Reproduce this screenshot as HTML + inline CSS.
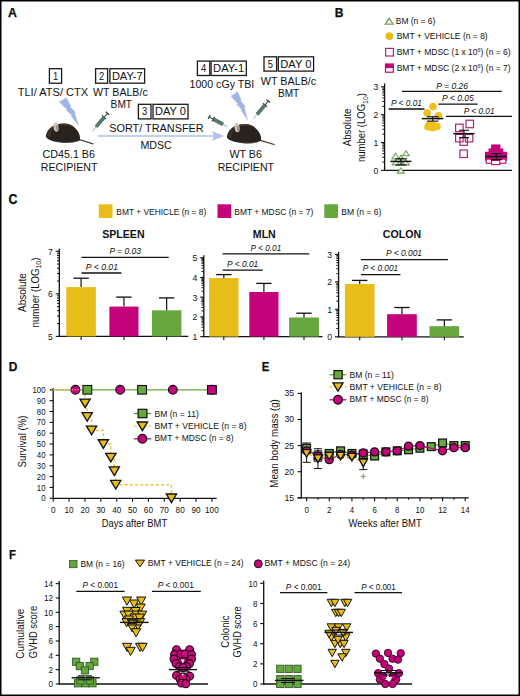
<!DOCTYPE html>
<html><head><meta charset="utf-8"><style>
html,body{margin:0;padding:0;background:#fff;overflow:hidden;width:520px;height:696px;}
svg{display:block;}
text{font-family:"Liberation Sans",sans-serif;fill:#111;}
</style></head><body>
<svg width="520" height="696" viewBox="0 0 520 696">
<defs><filter id="mblur" x="-20%" y="-20%" width="140%" height="140%"><feGaussianBlur stdDeviation="0.45"/></filter></defs>
<rect width="520" height="696" fill="#fff"/>
<rect x="0.75" y="0.75" width="518.5" height="694.5" fill="none" stroke="#000" stroke-width="1.5"/>
<text x="8.10" y="17.10" font-size="13.2" text-anchor="start" font-weight="bold" textLength="8.90" lengthAdjust="spacingAndGlyphs" stroke="#000" stroke-width="0.25">A</text>
<text x="334.70" y="17.30" font-size="13.2" text-anchor="start" font-weight="bold" textLength="8.70" lengthAdjust="spacingAndGlyphs" stroke="#000" stroke-width="0.25">B</text>
<text x="8.50" y="204.00" font-size="13.9" text-anchor="start" font-weight="bold" textLength="8.90" lengthAdjust="spacingAndGlyphs" stroke="#000" stroke-width="0.25">C</text>
<text x="8.65" y="370.80" font-size="13.2" text-anchor="start" font-weight="bold" textLength="8.65" lengthAdjust="spacingAndGlyphs" stroke="#000" stroke-width="0.25">D</text>
<text x="261.80" y="370.70" font-size="13.2" text-anchor="start" font-weight="bold" textLength="7.60" lengthAdjust="spacingAndGlyphs" stroke="#000" stroke-width="0.25">E</text>
<text x="9.00" y="558.90" font-size="13.2" text-anchor="start" font-weight="bold" textLength="6.90" lengthAdjust="spacingAndGlyphs" stroke="#000" stroke-width="0.25">F</text>
<rect x="49.40" y="68.70" width="12.20" height="14.50" fill="none" stroke="#1a1a1a" stroke-width="1.3"/>
<text x="55.50" y="79.60" font-size="10.8" text-anchor="middle" textLength="5.20" lengthAdjust="spacingAndGlyphs">1</text>
<rect x="95.60" y="68.70" width="12.00" height="14.50" fill="none" stroke="#1a1a1a" stroke-width="1.3"/>
<text x="101.60" y="79.60" font-size="10.8" text-anchor="middle" textLength="5.20" lengthAdjust="spacingAndGlyphs">2</text>
<rect x="109.90" y="68.70" width="34.70" height="14.50" fill="none" stroke="#1a1a1a" stroke-width="1.3"/>
<text x="127.25" y="79.60" font-size="10.8" text-anchor="middle" textLength="30.70" lengthAdjust="spacingAndGlyphs">DAY-7</text>
<rect x="138.40" y="104.30" width="12.60" height="14.60" fill="none" stroke="#1a1a1a" stroke-width="1.3"/>
<text x="144.70" y="115.30" font-size="10.8" text-anchor="middle" textLength="5.20" lengthAdjust="spacingAndGlyphs">3</text>
<rect x="153.00" y="104.30" width="35.00" height="14.60" fill="none" stroke="#1a1a1a" stroke-width="1.3"/>
<text x="170.50" y="115.30" font-size="10.8" text-anchor="middle" textLength="31.00" lengthAdjust="spacingAndGlyphs">DAY 0</text>
<rect x="197.40" y="61.10" width="12.40" height="14.40" fill="none" stroke="#1a1a1a" stroke-width="1.3"/>
<text x="203.60" y="71.90" font-size="10.8" text-anchor="middle" textLength="5.20" lengthAdjust="spacingAndGlyphs">4</text>
<rect x="211.10" y="61.10" width="35.20" height="14.40" fill="none" stroke="#1a1a1a" stroke-width="1.3"/>
<text x="228.70" y="71.90" font-size="10.8" text-anchor="middle" textLength="31.20" lengthAdjust="spacingAndGlyphs">DAY-1</text>
<rect x="264.00" y="56.80" width="12.60" height="14.30" fill="none" stroke="#1a1a1a" stroke-width="1.3"/>
<text x="270.30" y="67.50" font-size="10.8" text-anchor="middle" textLength="5.20" lengthAdjust="spacingAndGlyphs">5</text>
<rect x="278.30" y="56.80" width="35.30" height="14.30" fill="none" stroke="#1a1a1a" stroke-width="1.3"/>
<text x="295.95" y="67.50" font-size="10.8" text-anchor="middle" textLength="31.30" lengthAdjust="spacingAndGlyphs">DAY 0</text>
<text x="17.70" y="95.50" font-size="10.6" text-anchor="start" textLength="70.50" lengthAdjust="spacingAndGlyphs">TLI/ ATS/ CTX</text>
<text x="93.10" y="95.50" font-size="10.6" text-anchor="start" textLength="54.60" lengthAdjust="spacingAndGlyphs">WT BALB/c</text>
<text x="110.60" y="108.20" font-size="10.6" text-anchor="start" textLength="21.50" lengthAdjust="spacingAndGlyphs">BMT</text>
<text x="189.50" y="87.60" font-size="10.9" text-anchor="start" textLength="64.80" lengthAdjust="spacingAndGlyphs">1000 cGy TBI</text>
<text x="260.80" y="84.50" font-size="10.6" text-anchor="start" textLength="55.40" lengthAdjust="spacingAndGlyphs">WT BALB/c</text>
<text x="278.00" y="97.00" font-size="10.6" text-anchor="start" textLength="21.20" lengthAdjust="spacingAndGlyphs">BMT</text>
<text x="109.20" y="131.50" font-size="10.6" text-anchor="start" textLength="94.50" lengthAdjust="spacingAndGlyphs">SORT/ TRANSFER</text>
<text x="140.40" y="148.50" font-size="10.6" text-anchor="start" textLength="31.30" lengthAdjust="spacingAndGlyphs">MDSC</text>
<text x="42.50" y="157.70" font-size="10.6" text-anchor="start" textLength="52.50" lengthAdjust="spacingAndGlyphs">CD45.1 B6</text>
<text x="40.80" y="170.60" font-size="10.6" text-anchor="start" textLength="56.70" lengthAdjust="spacingAndGlyphs">RECIPIENT</text>
<text x="229.40" y="157.70" font-size="10.6" text-anchor="start" textLength="32.60" lengthAdjust="spacingAndGlyphs">WT B6</text>
<text x="217.70" y="170.60" font-size="10.6" text-anchor="start" textLength="56.30" lengthAdjust="spacingAndGlyphs">RECIPIENT</text>
<line x1="97.7" y1="136" x2="216" y2="136" stroke="#AFC2E8" stroke-width="1.4"/>
<polygon points="224,136 212,131 214,136 212,141" fill="#AFC3EA"/>
<polygon points="59.20,101.90 66.20,97.70 70.80,105.70 69.90,106.40 75.60,112.20 74.60,113.00 78.80,125.80 71.00,116.00 71.70,115.10 66.30,110.20 67.10,109.40" fill="#A0B4E6" stroke="#BFCDF0" stroke-width="0.6" stroke-linejoin="round"/>
<polygon points="230.80,96.20 237.50,91.80 241.31,99.87 240.44,100.60 245.39,106.40 244.42,107.24 247.60,120.20 240.93,110.35 241.63,109.43 236.91,104.53 237.69,103.70" fill="#A0B4E6" stroke="#BFCDF0" stroke-width="0.6" stroke-linejoin="round"/>
<g transform="translate(107.50,113.30) rotate(130.18)"><line x1="0" y1="-2.3" x2="0" y2="2.3" stroke="#33484A" stroke-width="1.3"/><line x1="0" y1="0" x2="5.18" y2="0" stroke="#33484A" stroke-width="1.1"/><line x1="5.18" y1="-2.8" x2="5.18" y2="2.8" stroke="#33484A" stroke-width="1.1"/><rect x="5.18" y="-1.5" width="12.25" height="3.0" fill="#557A72" stroke="#34504D" stroke-width="0.6"/><line x1="17.43" y1="0" x2="23.56" y2="0" stroke="#7E9698" stroke-width="0.7"/></g>
<g transform="translate(268.30,101.00) rotate(129.93)"><line x1="0" y1="-2.3" x2="0" y2="2.3" stroke="#33484A" stroke-width="1.3"/><line x1="0" y1="0" x2="5.11" y2="0" stroke="#33484A" stroke-width="1.1"/><line x1="5.11" y1="-2.8" x2="5.11" y2="2.8" stroke="#33484A" stroke-width="1.1"/><rect x="5.11" y="-1.5" width="12.07" height="3.0" fill="#557A72" stroke="#34504D" stroke-width="0.6"/><line x1="17.18" y1="0" x2="23.21" y2="0" stroke="#7E9698" stroke-width="0.7"/></g>
<g transform="translate(209.20,117.00) rotate(27.93)"><line x1="0" y1="-2.3" x2="0" y2="2.3" stroke="#33484A" stroke-width="1.3"/><line x1="0" y1="0" x2="4.56" y2="0" stroke="#33484A" stroke-width="1.1"/><line x1="4.56" y1="-2.8" x2="4.56" y2="2.8" stroke="#33484A" stroke-width="1.1"/><rect x="4.56" y="-1.5" width="10.77" height="3.0" fill="#557A72" stroke="#34504D" stroke-width="0.6"/><line x1="15.33" y1="0" x2="20.71" y2="0" stroke="#7E9698" stroke-width="0.7"/></g>
<g transform="translate(45.80,136.30)" filter="url(#mblur)"><path d="M33.5,3.4 Q40,5.2 47.2,7.6" stroke="#4a4542" stroke-width="1.3" fill="none" stroke-linecap="round"/><path d="M0,0 C0.3,-3 2,-6.5 5,-8.8 C8,-11.2 13,-12.8 19,-12.8 C25,-12.6 30,-8.7 32.8,-3.7 C34.2,-0.6 34.5,2 34,3.9 C31,5.7 26,6.6 20,6.6 C14,6.5 8,5.5 4,3.7 C2,2.7 0.2,1.5 0,0 Z" fill="#29231F"/><path d="M1,-1 C2,-5 4,-8 7,-9.5 C6,-6 5,-3 5,1 C3,1 1.5,0.5 1,-1 Z" fill="#3b322d" opacity="0.9"/><path d="M14,-12.4 C19,-13.3 25,-12.3 29,-9.3 C24,-11 19,-11.4 14,-10.8 Z" fill="#4a423c" opacity="0.8"/><path d="M9,4.4 C16,6.3 26,6.6 33.6,4 C29,7.2 17,7.4 9,4.4 Z" fill="#7a736d" opacity="0.85"/><ellipse cx="10.2" cy="-9.3" rx="2.5" ry="4.7" fill="#D4C9BF" transform="rotate(-8 10.2 -9.3)"/><ellipse cx="11" cy="-8.5" rx="1.2" ry="3" fill="#a09288" transform="rotate(-8 11 -8.5)"/></g>
<g transform="translate(226.90,136.90)" filter="url(#mblur)"><path d="M33.5,3.4 Q40,5.2 47.2,7.6" stroke="#4a4542" stroke-width="1.3" fill="none" stroke-linecap="round"/><path d="M0,0 C0.3,-3 2,-6.5 5,-8.8 C8,-11.2 13,-12.8 19,-12.8 C25,-12.6 30,-8.7 32.8,-3.7 C34.2,-0.6 34.5,2 34,3.9 C31,5.7 26,6.6 20,6.6 C14,6.5 8,5.5 4,3.7 C2,2.7 0.2,1.5 0,0 Z" fill="#29231F"/><path d="M1,-1 C2,-5 4,-8 7,-9.5 C6,-6 5,-3 5,1 C3,1 1.5,0.5 1,-1 Z" fill="#3b322d" opacity="0.9"/><path d="M14,-12.4 C19,-13.3 25,-12.3 29,-9.3 C24,-11 19,-11.4 14,-10.8 Z" fill="#4a423c" opacity="0.8"/><path d="M9,4.4 C16,6.3 26,6.6 33.6,4 C29,7.2 17,7.4 9,4.4 Z" fill="#7a736d" opacity="0.85"/><ellipse cx="10.2" cy="-9.3" rx="2.5" ry="4.7" fill="#D4C9BF" transform="rotate(-8 10.2 -9.3)"/><ellipse cx="11" cy="-8.5" rx="1.2" ry="3" fill="#a09288" transform="rotate(-8 11 -8.5)"/></g>
<polygon points="385.3,24.2 393.1,24.2 389.2,18.3" fill="none" stroke="#72A35A" stroke-width="1.3"/>
<text x="395.80" y="24.20" font-size="8.5" text-anchor="start" textLength="39.40" lengthAdjust="spacingAndGlyphs">BM (n = 6)</text>
<circle cx="389.40" cy="36.10" r="3.90" fill="#E8BD1A"/>
<text x="396.70" y="39.00" font-size="8.5" text-anchor="start" textLength="91.00" lengthAdjust="spacingAndGlyphs">BMT + VEHICLE (n = 8)</text>
<rect x="385.60" y="48.40" width="7.80" height="7.60" fill="none" stroke="#B3246F" stroke-width="1.2"/>
<text x="396.70" y="55.40" font-size="8.5" text-anchor="start">BMT + MDSC (1 x 10<tspan dy="-3" font-size="5.5">6</tspan><tspan dy="3">) (n = 6)</tspan></text>
<rect x="385.50" y="64.00" width="7.80" height="8.20" fill="white" stroke="#C4037A" stroke-width="1.2"/>
<rect x="385.50" y="64.00" width="7.80" height="4.10" fill="#C4037A"/>
<text x="396.70" y="70.80" font-size="8.5" text-anchor="start">BMT + MDSC (2 x 10<tspan dy="-3" font-size="5.5">6</tspan><tspan dy="3">) (n = 7)</tspan></text>
<line x1="384.60" y1="83.40" x2="384.60" y2="171.00" stroke="#111" stroke-width="1.3"/>
<line x1="384.00" y1="170.40" x2="512.00" y2="170.40" stroke="#111" stroke-width="1.3"/>
<line x1="381.00" y1="170.40" x2="384.60" y2="170.40" stroke="#111" stroke-width="1.1"/>
<text x="378.20" y="173.70" font-size="9.3" text-anchor="end" textLength="4.80" lengthAdjust="spacingAndGlyphs">0</text>
<line x1="382.30" y1="162.02" x2="384.60" y2="162.02" stroke="#111" stroke-width="1.0"/>
<line x1="382.30" y1="157.11" x2="384.60" y2="157.11" stroke="#111" stroke-width="1.0"/>
<line x1="382.30" y1="153.63" x2="384.60" y2="153.63" stroke="#111" stroke-width="1.0"/>
<line x1="382.30" y1="150.93" x2="384.60" y2="150.93" stroke="#111" stroke-width="1.0"/>
<line x1="382.30" y1="148.73" x2="384.60" y2="148.73" stroke="#111" stroke-width="1.0"/>
<line x1="382.30" y1="146.86" x2="384.60" y2="146.86" stroke="#111" stroke-width="1.0"/>
<line x1="382.30" y1="145.25" x2="384.60" y2="145.25" stroke="#111" stroke-width="1.0"/>
<line x1="382.30" y1="143.82" x2="384.60" y2="143.82" stroke="#111" stroke-width="1.0"/>
<line x1="381.00" y1="142.55" x2="384.60" y2="142.55" stroke="#111" stroke-width="1.1"/>
<text x="378.20" y="145.85" font-size="9.3" text-anchor="end" textLength="4.80" lengthAdjust="spacingAndGlyphs">1</text>
<line x1="382.30" y1="134.17" x2="384.60" y2="134.17" stroke="#111" stroke-width="1.0"/>
<line x1="382.30" y1="129.26" x2="384.60" y2="129.26" stroke="#111" stroke-width="1.0"/>
<line x1="382.30" y1="125.78" x2="384.60" y2="125.78" stroke="#111" stroke-width="1.0"/>
<line x1="382.30" y1="123.08" x2="384.60" y2="123.08" stroke="#111" stroke-width="1.0"/>
<line x1="382.30" y1="120.88" x2="384.60" y2="120.88" stroke="#111" stroke-width="1.0"/>
<line x1="382.30" y1="119.01" x2="384.60" y2="119.01" stroke="#111" stroke-width="1.0"/>
<line x1="382.30" y1="117.40" x2="384.60" y2="117.40" stroke="#111" stroke-width="1.0"/>
<line x1="382.30" y1="115.97" x2="384.60" y2="115.97" stroke="#111" stroke-width="1.0"/>
<line x1="381.00" y1="114.70" x2="384.60" y2="114.70" stroke="#111" stroke-width="1.1"/>
<text x="378.20" y="118.00" font-size="9.3" text-anchor="end" textLength="4.80" lengthAdjust="spacingAndGlyphs">2</text>
<line x1="382.30" y1="106.32" x2="384.60" y2="106.32" stroke="#111" stroke-width="1.0"/>
<line x1="382.30" y1="101.41" x2="384.60" y2="101.41" stroke="#111" stroke-width="1.0"/>
<line x1="382.30" y1="97.93" x2="384.60" y2="97.93" stroke="#111" stroke-width="1.0"/>
<line x1="382.30" y1="95.23" x2="384.60" y2="95.23" stroke="#111" stroke-width="1.0"/>
<line x1="382.30" y1="93.03" x2="384.60" y2="93.03" stroke="#111" stroke-width="1.0"/>
<line x1="382.30" y1="91.16" x2="384.60" y2="91.16" stroke="#111" stroke-width="1.0"/>
<line x1="382.30" y1="89.55" x2="384.60" y2="89.55" stroke="#111" stroke-width="1.0"/>
<line x1="382.30" y1="88.12" x2="384.60" y2="88.12" stroke="#111" stroke-width="1.0"/>
<line x1="381.00" y1="86.85" x2="384.60" y2="86.85" stroke="#111" stroke-width="1.1"/>
<text x="378.20" y="90.15" font-size="9.3" text-anchor="end" textLength="4.80" lengthAdjust="spacingAndGlyphs">3</text>
<text transform="translate(350.90,127.40) rotate(-90)" x="0" y="0" font-size="10.6" text-anchor="middle" textLength="37.80" lengthAdjust="spacingAndGlyphs">Absolute</text>
<text transform="translate(365.0,127.6) rotate(-90)" x="0" y="0" font-size="10.4" text-anchor="middle" textLength="68.9" lengthAdjust="spacingAndGlyphs">number (LOG<tspan dy="2.6" font-size="7.4">10</tspan><tspan dy="-2.6">)</tspan></text>
<line x1="402.00" y1="91.30" x2="501.70" y2="91.30" stroke="#111" stroke-width="1.3"/>
<text x="436.30" y="88.80" font-size="8.6" text-anchor="start" font-style="italic" textLength="31.70" lengthAdjust="spacingAndGlyphs">P = 0.26</text>
<line x1="388.70" y1="109.00" x2="424.50" y2="109.00" stroke="#111" stroke-width="1.3"/>
<text x="391.00" y="105.80" font-size="8.6" text-anchor="start" font-style="italic" textLength="31.00" lengthAdjust="spacingAndGlyphs">P &lt; 0.01</text>
<line x1="438.30" y1="104.20" x2="477.70" y2="104.20" stroke="#111" stroke-width="1.3"/>
<text x="442.00" y="101.30" font-size="8.6" text-anchor="start" font-style="italic" textLength="31.80" lengthAdjust="spacingAndGlyphs">P &lt; 0.05</text>
<line x1="446.00" y1="116.40" x2="512.00" y2="116.40" stroke="#111" stroke-width="1.3"/>
<text x="463.80" y="113.50" font-size="8.6" text-anchor="start" font-style="italic" textLength="30.80" lengthAdjust="spacingAndGlyphs">P &lt; 0.01</text>
<polygon points="391.90,159.00 399.30,159.00 395.60,153.30" fill="#F4FAF0" stroke="#6FA357" stroke-width="1.1"/>
<polygon points="398.70,159.00 403.30,159.00 401.00,155.00" fill="#F4FAF0" stroke="#6FA357" stroke-width="1.1"/>
<polygon points="402.70,155.80 409.30,155.80 406.00,150.70" fill="#F4FAF0" stroke="#6FA357" stroke-width="1.1"/>
<polygon points="392.30,165.00 399.30,165.00 395.80,159.80" fill="#F4FAF0" stroke="#6FA357" stroke-width="1.1"/>
<polygon points="397.90,165.00 403.30,165.00 400.60,160.30" fill="#F4FAF0" stroke="#6FA357" stroke-width="1.1"/>
<polygon points="402.30,165.00 409.30,165.00 405.80,159.80" fill="#F4FAF0" stroke="#6FA357" stroke-width="1.1"/>
<polygon points="397.30,173.10 404.30,173.10 400.80,168.00" fill="#F4FAF0" stroke="#6FA357" stroke-width="1.1"/>
<line x1="390.30" y1="161.40" x2="411.40" y2="161.40" stroke="#111" stroke-width="1.5"/>
<line x1="395.20" y1="158.80" x2="406.80" y2="158.80" stroke="#111" stroke-width="1.2"/>
<line x1="395.20" y1="164.90" x2="406.80" y2="164.90" stroke="#111" stroke-width="1.2"/>
<line x1="401.00" y1="158.80" x2="401.00" y2="164.90" stroke="#111" stroke-width="1.1"/>
<circle cx="433.00" cy="106.60" r="3.80" fill="#EEC11E"/>
<circle cx="427.20" cy="113.00" r="3.80" fill="#EEC11E"/>
<circle cx="438.50" cy="115.90" r="3.80" fill="#EEC11E"/>
<circle cx="428.00" cy="126.80" r="3.80" fill="#EEC11E"/>
<circle cx="437.00" cy="126.50" r="3.80" fill="#EEC11E"/>
<circle cx="433.00" cy="125.20" r="3.80" fill="#EEC11E"/>
<circle cx="432.50" cy="127.80" r="3.80" fill="#EEC11E"/>
<circle cx="429.50" cy="124.50" r="3.80" fill="#EEC11E"/>
<line x1="421.80" y1="118.60" x2="443.40" y2="118.60" stroke="#111" stroke-width="1.5"/>
<line x1="427.00" y1="116.70" x2="438.50" y2="116.70" stroke="#111" stroke-width="1.1"/>
<line x1="427.00" y1="121.10" x2="438.50" y2="121.10" stroke="#111" stroke-width="1.1"/>
<line x1="432.70" y1="116.70" x2="432.70" y2="121.10" stroke="#111" stroke-width="1.1"/>
<rect x="466.00" y="120.20" width="7.50" height="7.50" fill="none" stroke="#B3246F" stroke-width="1.2"/>
<rect x="455.60" y="124.20" width="7.50" height="7.50" fill="none" stroke="#B3246F" stroke-width="1.2"/>
<rect x="455.60" y="134.40" width="7.50" height="7.50" fill="none" stroke="#B3246F" stroke-width="1.2"/>
<rect x="465.30" y="134.40" width="7.50" height="7.50" fill="none" stroke="#B3246F" stroke-width="1.2"/>
<rect x="459.90" y="137.80" width="7.50" height="7.50" fill="none" stroke="#B3246F" stroke-width="1.2"/>
<rect x="459.90" y="150.00" width="7.50" height="7.50" fill="none" stroke="#B3246F" stroke-width="1.2"/>
<line x1="453.30" y1="133.60" x2="474.60" y2="133.60" stroke="#111" stroke-width="1.4"/>
<line x1="459.00" y1="130.30" x2="469.00" y2="130.30" stroke="#111" stroke-width="1.1"/>
<line x1="459.00" y1="137.50" x2="469.00" y2="137.50" stroke="#111" stroke-width="1.1"/>
<line x1="464.00" y1="130.30" x2="464.00" y2="137.50" stroke="#111" stroke-width="1.1"/>
<rect x="491.70" y="145.00" width="8.20" height="8.00" fill="white" stroke="#C4037A" stroke-width="1.1"/>
<rect x="491.70" y="145.00" width="8.20" height="4.40" fill="#C4037A"/>
<rect x="489.10" y="149.00" width="8.20" height="8.00" fill="white" stroke="#C4037A" stroke-width="1.1"/>
<rect x="489.10" y="149.00" width="8.20" height="4.40" fill="#C4037A"/>
<rect x="494.60" y="149.00" width="8.20" height="8.00" fill="white" stroke="#C4037A" stroke-width="1.1"/>
<rect x="494.60" y="149.00" width="8.20" height="4.40" fill="#C4037A"/>
<rect x="485.50" y="152.30" width="8.20" height="8.00" fill="white" stroke="#C4037A" stroke-width="1.1"/>
<rect x="485.50" y="152.30" width="8.20" height="4.40" fill="#C4037A"/>
<rect x="491.50" y="152.30" width="8.20" height="8.00" fill="white" stroke="#C4037A" stroke-width="1.1"/>
<rect x="491.50" y="152.30" width="8.20" height="4.40" fill="#C4037A"/>
<rect x="498.40" y="152.30" width="8.20" height="8.00" fill="white" stroke="#C4037A" stroke-width="1.1"/>
<rect x="498.40" y="152.30" width="8.20" height="4.40" fill="#C4037A"/>
<rect x="486.30" y="155.30" width="8.20" height="8.00" fill="white" stroke="#C4037A" stroke-width="1.1"/>
<rect x="486.30" y="155.30" width="8.20" height="4.40" fill="#C4037A"/>
<rect x="497.60" y="155.30" width="8.20" height="8.00" fill="white" stroke="#C4037A" stroke-width="1.1"/>
<rect x="497.60" y="155.30" width="8.20" height="4.40" fill="#C4037A"/>
<rect x="491.60" y="156.60" width="8.20" height="8.00" fill="white" stroke="#C4037A" stroke-width="1.1"/>
<rect x="491.60" y="156.60" width="8.20" height="4.40" fill="#C4037A"/>
<line x1="485.30" y1="156.50" x2="507.00" y2="156.50" stroke="#111" stroke-width="1.5"/>
<line x1="491.10" y1="153.60" x2="501.80" y2="153.60" stroke="#111" stroke-width="1.1"/>
<line x1="491.10" y1="159.60" x2="501.80" y2="159.60" stroke="#111" stroke-width="1.2"/>
<line x1="496.40" y1="153.60" x2="496.40" y2="159.60" stroke="#111" stroke-width="1.1"/>
<rect x="98.80" y="204.30" width="13.70" height="13.70" fill="#E8BD1A"/>
<text x="116.30" y="214.50" font-size="8.5" text-anchor="start" textLength="90.00" lengthAdjust="spacingAndGlyphs">BMT + VEHICLE (n = 8)</text>
<rect x="217.50" y="204.30" width="13.70" height="13.70" fill="#C4037A"/>
<text x="234.30" y="214.50" font-size="8.5" text-anchor="start" textLength="79.00" lengthAdjust="spacingAndGlyphs">BMT + MDSC (n = 7)</text>
<rect x="324.30" y="204.30" width="13.70" height="13.70" fill="#66A83E"/>
<text x="341.30" y="214.50" font-size="8.5" text-anchor="start" textLength="40.00" lengthAdjust="spacingAndGlyphs">BM (n = 6)</text>
<text x="123.40" y="238.10" font-size="10.6" text-anchor="middle" font-weight="bold">SPLEEN</text>
<line x1="59.30" y1="248.80" x2="59.30" y2="337.00" stroke="#111" stroke-width="1.3"/>
<line x1="58.70" y1="336.40" x2="188.30" y2="336.40" stroke="#111" stroke-width="1.3"/>
<line x1="55.70" y1="336.40" x2="59.30" y2="336.40" stroke="#111" stroke-width="1.1"/>
<text x="52.70" y="339.80" font-size="9.3" text-anchor="end" textLength="4.80" lengthAdjust="spacingAndGlyphs">5</text>
<line x1="57.00" y1="323.59" x2="59.30" y2="323.59" stroke="#111" stroke-width="1.0"/>
<line x1="57.00" y1="316.10" x2="59.30" y2="316.10" stroke="#111" stroke-width="1.0"/>
<line x1="57.00" y1="310.78" x2="59.30" y2="310.78" stroke="#111" stroke-width="1.0"/>
<line x1="57.00" y1="306.66" x2="59.30" y2="306.66" stroke="#111" stroke-width="1.0"/>
<line x1="57.00" y1="303.29" x2="59.30" y2="303.29" stroke="#111" stroke-width="1.0"/>
<line x1="57.00" y1="300.44" x2="59.30" y2="300.44" stroke="#111" stroke-width="1.0"/>
<line x1="57.00" y1="297.97" x2="59.30" y2="297.97" stroke="#111" stroke-width="1.0"/>
<line x1="57.00" y1="295.80" x2="59.30" y2="295.80" stroke="#111" stroke-width="1.0"/>
<line x1="55.70" y1="293.85" x2="59.30" y2="293.85" stroke="#111" stroke-width="1.1"/>
<text x="52.70" y="297.25" font-size="9.3" text-anchor="end" textLength="4.80" lengthAdjust="spacingAndGlyphs">6</text>
<line x1="57.00" y1="281.04" x2="59.30" y2="281.04" stroke="#111" stroke-width="1.0"/>
<line x1="57.00" y1="273.55" x2="59.30" y2="273.55" stroke="#111" stroke-width="1.0"/>
<line x1="57.00" y1="268.23" x2="59.30" y2="268.23" stroke="#111" stroke-width="1.0"/>
<line x1="57.00" y1="264.11" x2="59.30" y2="264.11" stroke="#111" stroke-width="1.0"/>
<line x1="57.00" y1="260.74" x2="59.30" y2="260.74" stroke="#111" stroke-width="1.0"/>
<line x1="57.00" y1="257.89" x2="59.30" y2="257.89" stroke="#111" stroke-width="1.0"/>
<line x1="57.00" y1="255.42" x2="59.30" y2="255.42" stroke="#111" stroke-width="1.0"/>
<line x1="57.00" y1="253.25" x2="59.30" y2="253.25" stroke="#111" stroke-width="1.0"/>
<line x1="55.70" y1="251.30" x2="59.30" y2="251.30" stroke="#111" stroke-width="1.1"/>
<text x="52.70" y="254.70" font-size="9.3" text-anchor="end" textLength="4.80" lengthAdjust="spacingAndGlyphs">7</text>
<rect x="66.30" y="287.10" width="29.60" height="49.30" fill="#E8BD1A"/>
<line x1="81.10" y1="278.20" x2="81.10" y2="287.10" stroke="#111" stroke-width="1.2"/>
<line x1="73.40" y1="278.20" x2="88.80" y2="278.20" stroke="#111" stroke-width="1.3"/>
<line x1="81.10" y1="336.40" x2="81.10" y2="339.90" stroke="#111" stroke-width="1.1"/>
<rect x="109.40" y="306.60" width="29.10" height="29.80" fill="#C4037A"/>
<line x1="123.95" y1="297.10" x2="123.95" y2="306.60" stroke="#111" stroke-width="1.2"/>
<line x1="116.25" y1="297.10" x2="131.65" y2="297.10" stroke="#111" stroke-width="1.3"/>
<line x1="123.95" y1="336.40" x2="123.95" y2="339.90" stroke="#111" stroke-width="1.1"/>
<rect x="151.90" y="310.30" width="29.50" height="26.10" fill="#66A83E"/>
<line x1="166.65" y1="297.90" x2="166.65" y2="310.30" stroke="#111" stroke-width="1.2"/>
<line x1="158.95" y1="297.90" x2="174.35" y2="297.90" stroke="#111" stroke-width="1.3"/>
<line x1="166.65" y1="336.40" x2="166.65" y2="339.90" stroke="#111" stroke-width="1.1"/>
<line x1="81.50" y1="257.30" x2="168.70" y2="257.30" stroke="#111" stroke-width="1.3"/>
<text x="109.50" y="253.90" font-size="8.5" text-anchor="start" font-style="italic" textLength="31.50" lengthAdjust="spacingAndGlyphs">P = 0.03</text>
<line x1="81.50" y1="273.00" x2="121.50" y2="273.00" stroke="#111" stroke-width="1.3"/>
<text x="85.80" y="269.60" font-size="8.5" text-anchor="start" font-style="italic" textLength="32.20" lengthAdjust="spacingAndGlyphs">P &lt; 0.01</text>
<text x="264.30" y="238.10" font-size="10.6" text-anchor="middle" font-weight="bold">MLN</text>
<line x1="203.80" y1="255.20" x2="203.80" y2="337.20" stroke="#111" stroke-width="1.3"/>
<line x1="203.20" y1="336.60" x2="322.50" y2="336.60" stroke="#111" stroke-width="1.3"/>
<line x1="200.20" y1="336.60" x2="203.80" y2="336.60" stroke="#111" stroke-width="1.1"/>
<text x="197.20" y="340.00" font-size="9.3" text-anchor="end" textLength="4.80" lengthAdjust="spacingAndGlyphs">1</text>
<line x1="201.50" y1="330.66" x2="203.80" y2="330.66" stroke="#111" stroke-width="1.0"/>
<line x1="201.50" y1="327.19" x2="203.80" y2="327.19" stroke="#111" stroke-width="1.0"/>
<line x1="201.50" y1="324.72" x2="203.80" y2="324.72" stroke="#111" stroke-width="1.0"/>
<line x1="201.50" y1="322.81" x2="203.80" y2="322.81" stroke="#111" stroke-width="1.0"/>
<line x1="201.50" y1="321.25" x2="203.80" y2="321.25" stroke="#111" stroke-width="1.0"/>
<line x1="201.50" y1="319.93" x2="203.80" y2="319.93" stroke="#111" stroke-width="1.0"/>
<line x1="201.50" y1="318.79" x2="203.80" y2="318.79" stroke="#111" stroke-width="1.0"/>
<line x1="201.50" y1="317.78" x2="203.80" y2="317.78" stroke="#111" stroke-width="1.0"/>
<line x1="200.20" y1="316.88" x2="203.80" y2="316.88" stroke="#111" stroke-width="1.1"/>
<text x="197.20" y="320.27" font-size="9.3" text-anchor="end" textLength="4.80" lengthAdjust="spacingAndGlyphs">2</text>
<line x1="201.50" y1="310.94" x2="203.80" y2="310.94" stroke="#111" stroke-width="1.0"/>
<line x1="201.50" y1="307.46" x2="203.80" y2="307.46" stroke="#111" stroke-width="1.0"/>
<line x1="201.50" y1="305.00" x2="203.80" y2="305.00" stroke="#111" stroke-width="1.0"/>
<line x1="201.50" y1="303.09" x2="203.80" y2="303.09" stroke="#111" stroke-width="1.0"/>
<line x1="201.50" y1="301.53" x2="203.80" y2="301.53" stroke="#111" stroke-width="1.0"/>
<line x1="201.50" y1="300.21" x2="203.80" y2="300.21" stroke="#111" stroke-width="1.0"/>
<line x1="201.50" y1="299.06" x2="203.80" y2="299.06" stroke="#111" stroke-width="1.0"/>
<line x1="201.50" y1="298.05" x2="203.80" y2="298.05" stroke="#111" stroke-width="1.0"/>
<line x1="200.20" y1="297.15" x2="203.80" y2="297.15" stroke="#111" stroke-width="1.1"/>
<text x="197.20" y="300.55" font-size="9.3" text-anchor="end" textLength="4.80" lengthAdjust="spacingAndGlyphs">3</text>
<line x1="201.50" y1="291.21" x2="203.80" y2="291.21" stroke="#111" stroke-width="1.0"/>
<line x1="201.50" y1="287.74" x2="203.80" y2="287.74" stroke="#111" stroke-width="1.0"/>
<line x1="201.50" y1="285.27" x2="203.80" y2="285.27" stroke="#111" stroke-width="1.0"/>
<line x1="201.50" y1="283.36" x2="203.80" y2="283.36" stroke="#111" stroke-width="1.0"/>
<line x1="201.50" y1="281.80" x2="203.80" y2="281.80" stroke="#111" stroke-width="1.0"/>
<line x1="201.50" y1="280.48" x2="203.80" y2="280.48" stroke="#111" stroke-width="1.0"/>
<line x1="201.50" y1="279.34" x2="203.80" y2="279.34" stroke="#111" stroke-width="1.0"/>
<line x1="201.50" y1="278.33" x2="203.80" y2="278.33" stroke="#111" stroke-width="1.0"/>
<line x1="200.20" y1="277.43" x2="203.80" y2="277.43" stroke="#111" stroke-width="1.1"/>
<text x="197.20" y="280.82" font-size="9.3" text-anchor="end" textLength="4.80" lengthAdjust="spacingAndGlyphs">4</text>
<line x1="201.50" y1="271.49" x2="203.80" y2="271.49" stroke="#111" stroke-width="1.0"/>
<line x1="201.50" y1="268.01" x2="203.80" y2="268.01" stroke="#111" stroke-width="1.0"/>
<line x1="201.50" y1="265.55" x2="203.80" y2="265.55" stroke="#111" stroke-width="1.0"/>
<line x1="201.50" y1="263.64" x2="203.80" y2="263.64" stroke="#111" stroke-width="1.0"/>
<line x1="201.50" y1="262.08" x2="203.80" y2="262.08" stroke="#111" stroke-width="1.0"/>
<line x1="201.50" y1="260.76" x2="203.80" y2="260.76" stroke="#111" stroke-width="1.0"/>
<line x1="201.50" y1="259.61" x2="203.80" y2="259.61" stroke="#111" stroke-width="1.0"/>
<line x1="201.50" y1="258.60" x2="203.80" y2="258.60" stroke="#111" stroke-width="1.0"/>
<line x1="200.20" y1="257.70" x2="203.80" y2="257.70" stroke="#111" stroke-width="1.1"/>
<text x="197.20" y="261.10" font-size="9.3" text-anchor="end" textLength="4.80" lengthAdjust="spacingAndGlyphs">5</text>
<rect x="209.10" y="278.00" width="29.40" height="58.60" fill="#E8BD1A"/>
<line x1="223.80" y1="274.60" x2="223.80" y2="278.00" stroke="#111" stroke-width="1.2"/>
<line x1="216.10" y1="274.60" x2="231.50" y2="274.60" stroke="#111" stroke-width="1.3"/>
<line x1="223.80" y1="336.60" x2="223.80" y2="340.10" stroke="#111" stroke-width="1.1"/>
<rect x="249.30" y="292.00" width="29.20" height="44.60" fill="#C4037A"/>
<line x1="263.90" y1="283.40" x2="263.90" y2="292.00" stroke="#111" stroke-width="1.2"/>
<line x1="256.20" y1="283.40" x2="271.60" y2="283.40" stroke="#111" stroke-width="1.3"/>
<line x1="263.90" y1="336.60" x2="263.90" y2="340.10" stroke="#111" stroke-width="1.1"/>
<rect x="289.10" y="317.50" width="29.80" height="19.10" fill="#66A83E"/>
<line x1="304.00" y1="313.20" x2="304.00" y2="317.50" stroke="#111" stroke-width="1.2"/>
<line x1="296.30" y1="313.20" x2="311.70" y2="313.20" stroke="#111" stroke-width="1.3"/>
<line x1="304.00" y1="336.60" x2="304.00" y2="340.10" stroke="#111" stroke-width="1.1"/>
<line x1="222.60" y1="253.90" x2="309.20" y2="253.90" stroke="#111" stroke-width="1.3"/>
<text x="250.60" y="250.50" font-size="8.5" text-anchor="start" font-style="italic" textLength="30.70" lengthAdjust="spacingAndGlyphs">P &lt; 0.01</text>
<line x1="222.60" y1="270.20" x2="262.70" y2="270.20" stroke="#111" stroke-width="1.3"/>
<text x="227.00" y="266.80" font-size="8.5" text-anchor="start" font-style="italic" textLength="31.30" lengthAdjust="spacingAndGlyphs">P &lt; 0.01</text>
<text x="402.00" y="238.10" font-size="10.6" text-anchor="middle" font-weight="bold">COLON</text>
<line x1="338.60" y1="251.90" x2="338.60" y2="337.40" stroke="#111" stroke-width="1.3"/>
<line x1="338.00" y1="336.80" x2="463.80" y2="336.80" stroke="#111" stroke-width="1.3"/>
<line x1="335.00" y1="336.80" x2="338.60" y2="336.80" stroke="#111" stroke-width="1.1"/>
<text x="332.00" y="340.20" font-size="9.3" text-anchor="end" textLength="4.80" lengthAdjust="spacingAndGlyphs">0</text>
<line x1="336.30" y1="328.53" x2="338.60" y2="328.53" stroke="#111" stroke-width="1.0"/>
<line x1="336.30" y1="323.70" x2="338.60" y2="323.70" stroke="#111" stroke-width="1.0"/>
<line x1="336.30" y1="320.26" x2="338.60" y2="320.26" stroke="#111" stroke-width="1.0"/>
<line x1="336.30" y1="317.60" x2="338.60" y2="317.60" stroke="#111" stroke-width="1.0"/>
<line x1="336.30" y1="315.43" x2="338.60" y2="315.43" stroke="#111" stroke-width="1.0"/>
<line x1="336.30" y1="313.59" x2="338.60" y2="313.59" stroke="#111" stroke-width="1.0"/>
<line x1="336.30" y1="312.00" x2="338.60" y2="312.00" stroke="#111" stroke-width="1.0"/>
<line x1="336.30" y1="310.59" x2="338.60" y2="310.59" stroke="#111" stroke-width="1.0"/>
<line x1="335.00" y1="309.33" x2="338.60" y2="309.33" stroke="#111" stroke-width="1.1"/>
<text x="332.00" y="312.73" font-size="9.3" text-anchor="end" textLength="4.80" lengthAdjust="spacingAndGlyphs">1</text>
<line x1="336.30" y1="301.07" x2="338.60" y2="301.07" stroke="#111" stroke-width="1.0"/>
<line x1="336.30" y1="296.23" x2="338.60" y2="296.23" stroke="#111" stroke-width="1.0"/>
<line x1="336.30" y1="292.80" x2="338.60" y2="292.80" stroke="#111" stroke-width="1.0"/>
<line x1="336.30" y1="290.13" x2="338.60" y2="290.13" stroke="#111" stroke-width="1.0"/>
<line x1="336.30" y1="287.96" x2="338.60" y2="287.96" stroke="#111" stroke-width="1.0"/>
<line x1="336.30" y1="286.12" x2="338.60" y2="286.12" stroke="#111" stroke-width="1.0"/>
<line x1="336.30" y1="284.53" x2="338.60" y2="284.53" stroke="#111" stroke-width="1.0"/>
<line x1="336.30" y1="283.12" x2="338.60" y2="283.12" stroke="#111" stroke-width="1.0"/>
<line x1="335.00" y1="281.87" x2="338.60" y2="281.87" stroke="#111" stroke-width="1.1"/>
<text x="332.00" y="285.27" font-size="9.3" text-anchor="end" textLength="4.80" lengthAdjust="spacingAndGlyphs">2</text>
<line x1="336.30" y1="273.60" x2="338.60" y2="273.60" stroke="#111" stroke-width="1.0"/>
<line x1="336.30" y1="268.76" x2="338.60" y2="268.76" stroke="#111" stroke-width="1.0"/>
<line x1="336.30" y1="265.33" x2="338.60" y2="265.33" stroke="#111" stroke-width="1.0"/>
<line x1="336.30" y1="262.67" x2="338.60" y2="262.67" stroke="#111" stroke-width="1.0"/>
<line x1="336.30" y1="260.49" x2="338.60" y2="260.49" stroke="#111" stroke-width="1.0"/>
<line x1="336.30" y1="258.65" x2="338.60" y2="258.65" stroke="#111" stroke-width="1.0"/>
<line x1="336.30" y1="257.06" x2="338.60" y2="257.06" stroke="#111" stroke-width="1.0"/>
<line x1="336.30" y1="255.66" x2="338.60" y2="255.66" stroke="#111" stroke-width="1.0"/>
<line x1="335.00" y1="254.40" x2="338.60" y2="254.40" stroke="#111" stroke-width="1.1"/>
<text x="332.00" y="257.80" font-size="9.3" text-anchor="end" textLength="4.80" lengthAdjust="spacingAndGlyphs">3</text>
<rect x="344.90" y="284.00" width="29.60" height="52.80" fill="#E8BD1A"/>
<line x1="359.70" y1="280.40" x2="359.70" y2="284.00" stroke="#111" stroke-width="1.2"/>
<line x1="352.00" y1="280.40" x2="367.40" y2="280.40" stroke="#111" stroke-width="1.3"/>
<line x1="359.70" y1="336.80" x2="359.70" y2="340.30" stroke="#111" stroke-width="1.1"/>
<rect x="387.10" y="314.20" width="29.70" height="22.60" fill="#C4037A"/>
<line x1="401.95" y1="307.50" x2="401.95" y2="314.20" stroke="#111" stroke-width="1.2"/>
<line x1="394.25" y1="307.50" x2="409.65" y2="307.50" stroke="#111" stroke-width="1.3"/>
<line x1="401.95" y1="336.80" x2="401.95" y2="340.30" stroke="#111" stroke-width="1.1"/>
<rect x="429.50" y="326.20" width="29.70" height="10.60" fill="#66A83E"/>
<line x1="444.35" y1="319.90" x2="444.35" y2="326.20" stroke="#111" stroke-width="1.2"/>
<line x1="436.65" y1="319.90" x2="452.05" y2="319.90" stroke="#111" stroke-width="1.3"/>
<line x1="444.35" y1="336.80" x2="444.35" y2="340.30" stroke="#111" stroke-width="1.1"/>
<line x1="361.00" y1="259.70" x2="447.90" y2="259.70" stroke="#111" stroke-width="1.3"/>
<text x="386.00" y="256.30" font-size="8.5" text-anchor="start" font-style="italic" textLength="36.00" lengthAdjust="spacingAndGlyphs">P &lt; 0.001</text>
<line x1="361.00" y1="274.70" x2="400.50" y2="274.70" stroke="#111" stroke-width="1.3"/>
<text x="362.80" y="271.30" font-size="8.5" text-anchor="start" font-style="italic" textLength="35.30" lengthAdjust="spacingAndGlyphs">P &lt; 0.001</text>
<text transform="translate(26.00,292.60) rotate(-90)" x="0" y="0" font-size="10.6" text-anchor="middle" textLength="38.80" lengthAdjust="spacingAndGlyphs">Absolute</text>
<text transform="translate(38.5,292.5) rotate(-90)" x="0" y="0" font-size="10.4" text-anchor="middle" textLength="69.8" lengthAdjust="spacingAndGlyphs">number (LOG<tspan dy="2.6" font-size="7.4">10</tspan><tspan dy="-2.6">)</tspan></text>
<line x1="53.20" y1="388.30" x2="53.20" y2="498.90" stroke="#111" stroke-width="1.3"/>
<line x1="52.60" y1="498.30" x2="216.66" y2="498.30" stroke="#111" stroke-width="1.3"/>
<line x1="49.70" y1="498.30" x2="53.20" y2="498.30" stroke="#111" stroke-width="1.1"/>
<text x="45.50" y="501.40" font-size="8.9" text-anchor="end" textLength="4.35" lengthAdjust="spacingAndGlyphs">0</text>
<line x1="49.70" y1="487.45" x2="53.20" y2="487.45" stroke="#111" stroke-width="1.1"/>
<text x="45.50" y="490.55" font-size="8.9" text-anchor="end" textLength="8.70" lengthAdjust="spacingAndGlyphs">10</text>
<line x1="49.70" y1="476.60" x2="53.20" y2="476.60" stroke="#111" stroke-width="1.1"/>
<text x="45.50" y="479.70" font-size="8.9" text-anchor="end" textLength="8.70" lengthAdjust="spacingAndGlyphs">20</text>
<line x1="49.70" y1="465.75" x2="53.20" y2="465.75" stroke="#111" stroke-width="1.1"/>
<text x="45.50" y="468.85" font-size="8.9" text-anchor="end" textLength="8.70" lengthAdjust="spacingAndGlyphs">30</text>
<line x1="49.70" y1="454.90" x2="53.20" y2="454.90" stroke="#111" stroke-width="1.1"/>
<text x="45.50" y="458.00" font-size="8.9" text-anchor="end" textLength="8.70" lengthAdjust="spacingAndGlyphs">40</text>
<line x1="49.70" y1="444.05" x2="53.20" y2="444.05" stroke="#111" stroke-width="1.1"/>
<text x="45.50" y="447.15" font-size="8.9" text-anchor="end" textLength="8.70" lengthAdjust="spacingAndGlyphs">50</text>
<line x1="49.70" y1="433.20" x2="53.20" y2="433.20" stroke="#111" stroke-width="1.1"/>
<text x="45.50" y="436.30" font-size="8.9" text-anchor="end" textLength="8.70" lengthAdjust="spacingAndGlyphs">60</text>
<line x1="49.70" y1="422.35" x2="53.20" y2="422.35" stroke="#111" stroke-width="1.1"/>
<text x="45.50" y="425.45" font-size="8.9" text-anchor="end" textLength="8.70" lengthAdjust="spacingAndGlyphs">70</text>
<line x1="49.70" y1="411.50" x2="53.20" y2="411.50" stroke="#111" stroke-width="1.1"/>
<text x="45.50" y="414.60" font-size="8.9" text-anchor="end" textLength="8.70" lengthAdjust="spacingAndGlyphs">80</text>
<line x1="49.70" y1="400.65" x2="53.20" y2="400.65" stroke="#111" stroke-width="1.1"/>
<text x="45.50" y="403.75" font-size="8.9" text-anchor="end" textLength="8.70" lengthAdjust="spacingAndGlyphs">90</text>
<line x1="49.70" y1="389.80" x2="53.20" y2="389.80" stroke="#111" stroke-width="1.1"/>
<text x="45.50" y="392.90" font-size="8.9" text-anchor="end" textLength="13.05" lengthAdjust="spacingAndGlyphs">100</text>
<line x1="53.20" y1="498.30" x2="53.20" y2="501.80" stroke="#111" stroke-width="1.1"/>
<text x="53.20" y="512.60" font-size="9.2" text-anchor="middle" textLength="4.55" lengthAdjust="spacingAndGlyphs">0</text>
<line x1="69.07" y1="498.30" x2="69.07" y2="501.80" stroke="#111" stroke-width="1.1"/>
<text x="69.07" y="512.60" font-size="9.2" text-anchor="middle" textLength="9.10" lengthAdjust="spacingAndGlyphs">10</text>
<line x1="84.94" y1="498.30" x2="84.94" y2="501.80" stroke="#111" stroke-width="1.1"/>
<text x="84.94" y="512.60" font-size="9.2" text-anchor="middle" textLength="9.10" lengthAdjust="spacingAndGlyphs">20</text>
<line x1="100.81" y1="498.30" x2="100.81" y2="501.80" stroke="#111" stroke-width="1.1"/>
<text x="100.81" y="512.60" font-size="9.2" text-anchor="middle" textLength="9.10" lengthAdjust="spacingAndGlyphs">30</text>
<line x1="116.68" y1="498.30" x2="116.68" y2="501.80" stroke="#111" stroke-width="1.1"/>
<text x="116.68" y="512.60" font-size="9.2" text-anchor="middle" textLength="9.10" lengthAdjust="spacingAndGlyphs">40</text>
<line x1="132.55" y1="498.30" x2="132.55" y2="501.80" stroke="#111" stroke-width="1.1"/>
<text x="132.55" y="512.60" font-size="9.2" text-anchor="middle" textLength="9.10" lengthAdjust="spacingAndGlyphs">50</text>
<line x1="148.42" y1="498.30" x2="148.42" y2="501.80" stroke="#111" stroke-width="1.1"/>
<text x="148.42" y="512.60" font-size="9.2" text-anchor="middle" textLength="9.10" lengthAdjust="spacingAndGlyphs">60</text>
<line x1="164.29" y1="498.30" x2="164.29" y2="501.80" stroke="#111" stroke-width="1.1"/>
<text x="164.29" y="512.60" font-size="9.2" text-anchor="middle" textLength="9.10" lengthAdjust="spacingAndGlyphs">70</text>
<line x1="180.16" y1="498.30" x2="180.16" y2="501.80" stroke="#111" stroke-width="1.1"/>
<text x="180.16" y="512.60" font-size="9.2" text-anchor="middle" textLength="9.10" lengthAdjust="spacingAndGlyphs">80</text>
<line x1="196.03" y1="498.30" x2="196.03" y2="501.80" stroke="#111" stroke-width="1.1"/>
<text x="196.03" y="512.60" font-size="9.2" text-anchor="middle" textLength="9.10" lengthAdjust="spacingAndGlyphs">90</text>
<line x1="211.90" y1="498.30" x2="211.90" y2="501.80" stroke="#111" stroke-width="1.1"/>
<text x="211.90" y="512.60" font-size="9.2" text-anchor="middle" textLength="13.65" lengthAdjust="spacingAndGlyphs">100</text>
<text x="101.80" y="527.00" font-size="11" text-anchor="start" textLength="65.40" lengthAdjust="spacingAndGlyphs">Days after BMT</text>
<text transform="translate(25.70,441.50) rotate(-90)" x="0" y="0" font-size="11" text-anchor="middle" textLength="52.00" lengthAdjust="spacingAndGlyphs">Survival (%)</text>
<line x1="53.70" y1="389.80" x2="211.90" y2="389.80" stroke="#66A83E" stroke-width="1.3"/>
<polyline points="53.20,389.80 85.10,389.80 85.10,403.36 87.16,403.36 87.16,416.93 91.61,416.93 91.61,430.49 103.35,430.49 103.35,444.05 110.81,444.05 110.81,457.61 114.30,457.61 114.30,471.18 115.73,471.18 115.73,484.74 171.43,484.74 171.43,498.30" fill="none" stroke="#E6C54A" stroke-width="1.4" stroke-dasharray="3,2.2"/>
<polygon points="80.00,399.06 90.20,399.06 85.10,407.66" fill="#E8BD1A" stroke="#111" stroke-width="1.35" stroke-linejoin="miter"/>
<polygon points="82.06,412.62 92.26,412.62 87.16,421.23" fill="#E8BD1A" stroke="#111" stroke-width="1.35" stroke-linejoin="miter"/>
<polygon points="86.51,426.19 96.71,426.19 91.61,434.79" fill="#E8BD1A" stroke="#111" stroke-width="1.35" stroke-linejoin="miter"/>
<polygon points="98.25,439.75 108.45,439.75 103.35,448.35" fill="#E8BD1A" stroke="#111" stroke-width="1.35" stroke-linejoin="miter"/>
<polygon points="105.71,453.31 115.91,453.31 110.81,461.91" fill="#E8BD1A" stroke="#111" stroke-width="1.35" stroke-linejoin="miter"/>
<polygon points="109.20,466.88 119.40,466.88 114.30,475.48" fill="#E8BD1A" stroke="#111" stroke-width="1.35" stroke-linejoin="miter"/>
<polygon points="110.63,480.44 120.83,480.44 115.73,489.04" fill="#E8BD1A" stroke="#111" stroke-width="1.35" stroke-linejoin="miter"/>
<polygon points="166.33,494.00 176.53,494.00 171.43,502.60" fill="#E8BD1A" stroke="#111" stroke-width="1.35" stroke-linejoin="miter"/>
<circle cx="75.42" cy="389.80" r="4.40" fill="#C4037A" stroke="#111" stroke-width="1.1"/>
<line x1="71.62" y1="389.80" x2="79.22" y2="389.80" stroke="#f0b8c8" stroke-width="1.1" stroke-dasharray="1.6,1.4"/>
<circle cx="120.17" cy="389.80" r="4.40" fill="#C4037A" stroke="#111" stroke-width="1.1"/>
<circle cx="172.86" cy="389.80" r="4.40" fill="#C4037A" stroke="#111" stroke-width="1.1"/>
<rect x="137.67" y="385.50" width="8.80" height="8.60" fill="#66A83E" stroke="#111" stroke-width="1.1"/>
<rect x="82.92" y="385.50" width="8.80" height="8.60" fill="#66A83E" stroke="#111" stroke-width="1.1"/>
<circle cx="211.90" cy="389.80" r="4.40" fill="#C4037A" stroke="#111" stroke-width="1.1"/>
<rect x="207.50" y="385.50" width="8.80" height="8.60" fill="#C4037A" stroke="#111" stroke-width="1.1"/>
<line x1="133.80" y1="413.50" x2="151.20" y2="413.50" stroke="#4F8A38" stroke-width="1.2"/>
<rect x="138.10" y="409.30" width="8.80" height="8.40" fill="#66A83E" stroke="#111" stroke-width="1.2"/>
<text x="154.50" y="416.50" font-size="8.6" text-anchor="start" textLength="44.30" lengthAdjust="spacingAndGlyphs">BM (n = 11)</text>
<line x1="133.80" y1="426.20" x2="151.20" y2="426.20" stroke="#E6C54A" stroke-width="1.3" stroke-dasharray="3,2"/>
<polygon points="137.30,422.00 147.50,422.00 142.40,430.60" fill="#E8BD1A" stroke="#111" stroke-width="1.35" stroke-linejoin="miter"/>
<text x="154.50" y="429.00" font-size="8.6" text-anchor="start" textLength="92.00" lengthAdjust="spacingAndGlyphs">BMT + VEHICLE (n = 8)</text>
<line x1="133.80" y1="438.80" x2="151.20" y2="438.80" stroke="#A0206A" stroke-width="1.3"/>
<circle cx="142.40" cy="438.80" r="4.40" fill="#C4037A" stroke="#111" stroke-width="1.2"/>
<text x="154.50" y="441.30" font-size="8.6" text-anchor="start" textLength="79.00" lengthAdjust="spacingAndGlyphs">BMT + MDSC (n = 8)</text>
<line x1="301.30" y1="392.40" x2="301.30" y2="498.40" stroke="#111" stroke-width="1.3"/>
<line x1="297.50" y1="497.80" x2="468.80" y2="497.80" stroke="#111" stroke-width="1.3"/>
<line x1="297.60" y1="497.80" x2="301.30" y2="497.80" stroke="#111" stroke-width="1.1"/>
<text x="294.10" y="500.70" font-size="8.7" text-anchor="end" textLength="9.60" lengthAdjust="spacingAndGlyphs">15</text>
<line x1="297.60" y1="471.70" x2="301.30" y2="471.70" stroke="#111" stroke-width="1.1"/>
<text x="294.10" y="474.60" font-size="8.7" text-anchor="end" textLength="9.60" lengthAdjust="spacingAndGlyphs">20</text>
<line x1="297.60" y1="445.60" x2="301.30" y2="445.60" stroke="#111" stroke-width="1.1"/>
<text x="294.10" y="448.50" font-size="8.7" text-anchor="end" textLength="9.60" lengthAdjust="spacingAndGlyphs">25</text>
<line x1="297.60" y1="419.50" x2="301.30" y2="419.50" stroke="#111" stroke-width="1.1"/>
<text x="294.10" y="422.40" font-size="8.7" text-anchor="end" textLength="9.60" lengthAdjust="spacingAndGlyphs">30</text>
<line x1="297.60" y1="393.40" x2="301.30" y2="393.40" stroke="#111" stroke-width="1.1"/>
<text x="294.10" y="396.30" font-size="8.7" text-anchor="end" textLength="9.60" lengthAdjust="spacingAndGlyphs">35</text>
<line x1="306.60" y1="497.80" x2="306.60" y2="501.30" stroke="#111" stroke-width="1.1"/>
<text x="306.60" y="512.80" font-size="9" text-anchor="middle" textLength="4.40" lengthAdjust="spacingAndGlyphs">0</text>
<line x1="317.93" y1="497.80" x2="317.93" y2="499.80" stroke="#111" stroke-width="1.1"/>
<line x1="329.26" y1="497.80" x2="329.26" y2="501.30" stroke="#111" stroke-width="1.1"/>
<text x="329.26" y="512.80" font-size="9" text-anchor="middle" textLength="4.40" lengthAdjust="spacingAndGlyphs">2</text>
<line x1="340.59" y1="497.80" x2="340.59" y2="499.80" stroke="#111" stroke-width="1.1"/>
<line x1="351.92" y1="497.80" x2="351.92" y2="501.30" stroke="#111" stroke-width="1.1"/>
<text x="351.92" y="512.80" font-size="9" text-anchor="middle" textLength="4.40" lengthAdjust="spacingAndGlyphs">4</text>
<line x1="363.25" y1="497.80" x2="363.25" y2="499.80" stroke="#111" stroke-width="1.1"/>
<line x1="374.58" y1="497.80" x2="374.58" y2="501.30" stroke="#111" stroke-width="1.1"/>
<text x="374.58" y="512.80" font-size="9" text-anchor="middle" textLength="4.40" lengthAdjust="spacingAndGlyphs">6</text>
<line x1="385.91" y1="497.80" x2="385.91" y2="499.80" stroke="#111" stroke-width="1.1"/>
<line x1="397.24" y1="497.80" x2="397.24" y2="501.30" stroke="#111" stroke-width="1.1"/>
<text x="397.24" y="512.80" font-size="9" text-anchor="middle" textLength="4.40" lengthAdjust="spacingAndGlyphs">8</text>
<line x1="408.57" y1="497.80" x2="408.57" y2="499.80" stroke="#111" stroke-width="1.1"/>
<line x1="419.90" y1="497.80" x2="419.90" y2="501.30" stroke="#111" stroke-width="1.1"/>
<text x="419.90" y="512.80" font-size="9" text-anchor="middle" textLength="8.80" lengthAdjust="spacingAndGlyphs">10</text>
<line x1="431.23" y1="497.80" x2="431.23" y2="499.80" stroke="#111" stroke-width="1.1"/>
<line x1="442.56" y1="497.80" x2="442.56" y2="501.30" stroke="#111" stroke-width="1.1"/>
<text x="442.56" y="512.80" font-size="9" text-anchor="middle" textLength="8.80" lengthAdjust="spacingAndGlyphs">12</text>
<line x1="453.89" y1="497.80" x2="453.89" y2="499.80" stroke="#111" stroke-width="1.1"/>
<line x1="465.22" y1="497.80" x2="465.22" y2="501.30" stroke="#111" stroke-width="1.1"/>
<text x="465.22" y="512.80" font-size="9" text-anchor="middle" textLength="8.80" lengthAdjust="spacingAndGlyphs">14</text>
<text x="348.50" y="527.20" font-size="11" text-anchor="start" textLength="73.30" lengthAdjust="spacingAndGlyphs">Weeks after BMT</text>
<text transform="translate(278.30,443.40) rotate(-90)" x="0" y="0" font-size="11" text-anchor="middle" textLength="88.50" lengthAdjust="spacingAndGlyphs">Mean body mass (g)</text>
<line x1="306.60" y1="442.99" x2="306.60" y2="453.43" stroke="#111" stroke-width="1.0"/>
<line x1="302.60" y1="442.99" x2="310.60" y2="442.99" stroke="#111" stroke-width="1.0"/>
<line x1="302.60" y1="453.43" x2="310.60" y2="453.43" stroke="#111" stroke-width="1.0"/>
<line x1="317.93" y1="450.82" x2="317.93" y2="461.26" stroke="#111" stroke-width="1.0"/>
<line x1="313.93" y1="450.82" x2="321.93" y2="450.82" stroke="#111" stroke-width="1.0"/>
<line x1="313.93" y1="461.26" x2="321.93" y2="461.26" stroke="#111" stroke-width="1.0"/>
<line x1="306.60" y1="444.56" x2="306.60" y2="462.30" stroke="#111" stroke-width="1.0"/>
<line x1="302.60" y1="444.56" x2="310.60" y2="444.56" stroke="#111" stroke-width="1.0"/>
<line x1="302.60" y1="462.30" x2="310.60" y2="462.30" stroke="#111" stroke-width="1.0"/>
<line x1="317.93" y1="448.73" x2="317.93" y2="468.57" stroke="#111" stroke-width="1.0"/>
<line x1="313.93" y1="448.73" x2="321.93" y2="448.73" stroke="#111" stroke-width="1.0"/>
<line x1="313.93" y1="468.57" x2="321.93" y2="468.57" stroke="#111" stroke-width="1.0"/>
<line x1="363.25" y1="456.04" x2="363.25" y2="469.61" stroke="#111" stroke-width="1.0"/>
<line x1="359.25" y1="456.04" x2="367.25" y2="456.04" stroke="#111" stroke-width="1.0"/>
<line x1="359.25" y1="469.61" x2="367.25" y2="469.61" stroke="#111" stroke-width="1.0"/>
<line x1="363.25" y1="449.78" x2="363.25" y2="456.04" stroke="#111" stroke-width="1.0"/>
<line x1="359.25" y1="449.78" x2="367.25" y2="449.78" stroke="#111" stroke-width="1.0"/>
<line x1="359.25" y1="456.04" x2="367.25" y2="456.04" stroke="#111" stroke-width="1.0"/>
<polyline points="306.60,448.21 317.93,456.04 329.26,453.43 340.59,450.82 351.92,453.43 363.25,454.47 374.58,456.04 385.91,451.86 397.24,450.82 408.57,449.78 419.90,448.21 431.23,446.64 442.56,442.99 453.89,445.60 465.22,445.60" fill="none" stroke="#66A83E" stroke-width="1.2"/>
<rect x="302.70" y="444.31" width="7.80" height="7.80" fill="#66A83E" stroke="#111" stroke-width="1.25"/>
<rect x="314.03" y="452.14" width="7.80" height="7.80" fill="#66A83E" stroke="#111" stroke-width="1.25"/>
<rect x="325.36" y="449.53" width="7.80" height="7.80" fill="#66A83E" stroke="#111" stroke-width="1.25"/>
<rect x="336.69" y="446.92" width="7.80" height="7.80" fill="#66A83E" stroke="#111" stroke-width="1.25"/>
<rect x="348.02" y="449.53" width="7.80" height="7.80" fill="#66A83E" stroke="#111" stroke-width="1.25"/>
<rect x="359.35" y="450.57" width="7.80" height="7.80" fill="#66A83E" stroke="#111" stroke-width="1.25"/>
<rect x="370.68" y="452.14" width="7.80" height="7.80" fill="#66A83E" stroke="#111" stroke-width="1.25"/>
<rect x="382.01" y="447.96" width="7.80" height="7.80" fill="#66A83E" stroke="#111" stroke-width="1.25"/>
<rect x="393.34" y="446.92" width="7.80" height="7.80" fill="#66A83E" stroke="#111" stroke-width="1.25"/>
<rect x="404.67" y="445.88" width="7.80" height="7.80" fill="#66A83E" stroke="#111" stroke-width="1.25"/>
<rect x="416.00" y="444.31" width="7.80" height="7.80" fill="#66A83E" stroke="#111" stroke-width="1.25"/>
<rect x="427.33" y="442.74" width="7.80" height="7.80" fill="#66A83E" stroke="#111" stroke-width="1.25"/>
<rect x="438.66" y="439.09" width="7.80" height="7.80" fill="#66A83E" stroke="#111" stroke-width="1.25"/>
<rect x="449.99" y="441.70" width="7.80" height="7.80" fill="#66A83E" stroke="#111" stroke-width="1.25"/>
<rect x="461.32" y="441.70" width="7.80" height="7.80" fill="#66A83E" stroke="#111" stroke-width="1.25"/>
<polyline points="306.60,450.82 317.93,456.04 329.26,459.69 340.59,454.47 351.92,455.00 363.25,452.91 374.58,451.86 385.91,451.86 397.24,450.82 408.57,446.12 419.90,445.60 442.56,450.82 453.89,447.69 465.22,447.69" fill="none" stroke="#C4037A" stroke-width="1.2"/>
<circle cx="306.60" cy="450.82" r="4.00" fill="#C4037A" stroke="#111" stroke-width="1.25"/>
<circle cx="317.93" cy="456.04" r="4.00" fill="#C4037A" stroke="#111" stroke-width="1.25"/>
<circle cx="329.26" cy="459.69" r="4.00" fill="#C4037A" stroke="#111" stroke-width="1.25"/>
<circle cx="340.59" cy="454.47" r="4.00" fill="#C4037A" stroke="#111" stroke-width="1.25"/>
<circle cx="351.92" cy="455.00" r="4.00" fill="#C4037A" stroke="#111" stroke-width="1.25"/>
<circle cx="363.25" cy="452.91" r="4.00" fill="#C4037A" stroke="#111" stroke-width="1.25"/>
<circle cx="374.58" cy="451.86" r="4.00" fill="#C4037A" stroke="#111" stroke-width="1.25"/>
<circle cx="385.91" cy="451.86" r="4.00" fill="#C4037A" stroke="#111" stroke-width="1.25"/>
<circle cx="397.24" cy="450.82" r="4.00" fill="#C4037A" stroke="#111" stroke-width="1.25"/>
<circle cx="408.57" cy="446.12" r="4.00" fill="#C4037A" stroke="#111" stroke-width="1.25"/>
<circle cx="419.90" cy="445.60" r="4.00" fill="#C4037A" stroke="#111" stroke-width="1.25"/>
<circle cx="442.56" cy="450.82" r="4.00" fill="#C4037A" stroke="#111" stroke-width="1.25"/>
<circle cx="453.89" cy="447.69" r="4.00" fill="#C4037A" stroke="#111" stroke-width="1.25"/>
<circle cx="465.22" cy="447.69" r="4.00" fill="#C4037A" stroke="#111" stroke-width="1.25"/>
<polyline points="306.60,453.43 317.93,458.65 329.26,456.04 340.59,456.04 351.92,457.08 363.25,462.83" fill="none" stroke="#E8BD1A" stroke-width="1.2" stroke-dasharray="2,1.5"/>
<polygon points="302.30,449.63 310.90,449.63 306.60,457.23" fill="#E8BD1A" stroke="#111" stroke-width="1.3" stroke-linejoin="miter"/>
<polygon points="313.63,454.85 322.23,454.85 317.93,462.45" fill="#E8BD1A" stroke="#111" stroke-width="1.3" stroke-linejoin="miter"/>
<polygon points="324.96,452.24 333.56,452.24 329.26,459.84" fill="#E8BD1A" stroke="#111" stroke-width="1.3" stroke-linejoin="miter"/>
<polygon points="336.29,452.24 344.89,452.24 340.59,459.84" fill="#E8BD1A" stroke="#111" stroke-width="1.3" stroke-linejoin="miter"/>
<polygon points="347.62,453.28 356.22,453.28 351.92,460.88" fill="#E8BD1A" stroke="#111" stroke-width="1.3" stroke-linejoin="miter"/>
<polygon points="358.95,459.03 367.55,459.03 363.25,466.63" fill="#E8BD1A" stroke="#111" stroke-width="1.3" stroke-linejoin="miter"/>
<line x1="360.65" y1="476.30" x2="365.85" y2="476.30" stroke="#8E9E72" stroke-width="1.1"/>
<line x1="363.25" y1="473.70" x2="363.25" y2="478.90" stroke="#8E9E72" stroke-width="1.1"/>
<line x1="329.50" y1="374.70" x2="346.30" y2="374.70" stroke="#66A83E" stroke-width="1.3"/>
<rect x="334.00" y="370.60" width="8.20" height="8.20" fill="#66A83E" stroke="#111" stroke-width="1.2"/>
<text x="349.50" y="377.50" font-size="8.6" text-anchor="start" textLength="44.30" lengthAdjust="spacingAndGlyphs">BM (n = 11)</text>
<line x1="329.50" y1="386.80" x2="346.30" y2="386.80" stroke="#E8BD1A" stroke-width="1.3" stroke-dasharray="3,2"/>
<polygon points="333.00,382.80 343.00,382.80 338.00,391.20" fill="#E8BD1A" stroke="#111" stroke-width="1.3" stroke-linejoin="miter"/>
<text x="349.50" y="390.00" font-size="8.6" text-anchor="start" textLength="92.00" lengthAdjust="spacingAndGlyphs">BMT + VEHICLE (n = 8)</text>
<line x1="329.50" y1="399.80" x2="346.30" y2="399.80" stroke="#C4037A" stroke-width="1.3"/>
<circle cx="338.00" cy="399.80" r="4.40" fill="#C4037A" stroke="#111" stroke-width="1.2"/>
<text x="349.50" y="402.20" font-size="8.6" text-anchor="start" textLength="79.00" lengthAdjust="spacingAndGlyphs">BMT + MDSC (n = 8)</text>
<rect x="69.50" y="560.50" width="7.50" height="7.20" fill="#66A83E" stroke="#2f5a20" stroke-width="0.8"/>
<text x="80.50" y="566.80" font-size="8.5" text-anchor="start" textLength="44.00" lengthAdjust="spacingAndGlyphs">BM (n = 16)</text>
<polygon points="135.40,560.10 144.60,560.10 140.00,566.90" fill="#E8BD1A" stroke="#111" stroke-width="1" stroke-linejoin="miter"/>
<text x="147.70" y="566.30" font-size="8.5" text-anchor="start" textLength="96.00" lengthAdjust="spacingAndGlyphs">BMT + VEHICLE (n = 24)</text>
<circle cx="258.30" cy="563.80" r="4.00" fill="#C4037A" stroke="#111" stroke-width="1"/>
<text x="264.60" y="566.30" font-size="8.5" text-anchor="start" textLength="85.60" lengthAdjust="spacingAndGlyphs">BMT + MDSC (n = 24)</text>
<line x1="59.20" y1="581.12" x2="59.20" y2="684.60" stroke="#111" stroke-width="1.3"/>
<line x1="58.60" y1="684.00" x2="208.00" y2="684.00" stroke="#111" stroke-width="1.3"/>
<line x1="55.70" y1="684.00" x2="59.20" y2="684.00" stroke="#111" stroke-width="1.1"/>
<text x="53.00" y="687.20" font-size="9.2" text-anchor="end" textLength="4.50" lengthAdjust="spacingAndGlyphs">0</text>
<line x1="55.70" y1="669.66" x2="59.20" y2="669.66" stroke="#111" stroke-width="1.1"/>
<text x="53.00" y="672.86" font-size="9.2" text-anchor="end" textLength="4.50" lengthAdjust="spacingAndGlyphs">2</text>
<line x1="55.70" y1="655.32" x2="59.20" y2="655.32" stroke="#111" stroke-width="1.1"/>
<text x="53.00" y="658.52" font-size="9.2" text-anchor="end" textLength="4.50" lengthAdjust="spacingAndGlyphs">4</text>
<line x1="55.70" y1="640.98" x2="59.20" y2="640.98" stroke="#111" stroke-width="1.1"/>
<text x="53.00" y="644.18" font-size="9.2" text-anchor="end" textLength="4.50" lengthAdjust="spacingAndGlyphs">6</text>
<line x1="55.70" y1="626.64" x2="59.20" y2="626.64" stroke="#111" stroke-width="1.1"/>
<text x="53.00" y="629.84" font-size="9.2" text-anchor="end" textLength="4.50" lengthAdjust="spacingAndGlyphs">8</text>
<line x1="55.70" y1="612.30" x2="59.20" y2="612.30" stroke="#111" stroke-width="1.1"/>
<text x="53.00" y="615.50" font-size="9.2" text-anchor="end" textLength="9.00" lengthAdjust="spacingAndGlyphs">10</text>
<line x1="55.70" y1="597.96" x2="59.20" y2="597.96" stroke="#111" stroke-width="1.1"/>
<text x="53.00" y="601.16" font-size="9.2" text-anchor="end" textLength="9.00" lengthAdjust="spacingAndGlyphs">12</text>
<line x1="55.70" y1="583.62" x2="59.20" y2="583.62" stroke="#111" stroke-width="1.1"/>
<text x="53.00" y="586.82" font-size="9.2" text-anchor="end" textLength="9.00" lengthAdjust="spacingAndGlyphs">14</text>
<text transform="translate(24.40,633.70) rotate(-90)" x="0" y="0" font-size="10.8" text-anchor="middle" textLength="50.00" lengthAdjust="spacingAndGlyphs">Cumulative</text>
<text transform="translate(36.50,632.10) rotate(-90)" x="0" y="0" font-size="10.8" text-anchor="middle" textLength="52.40" lengthAdjust="spacingAndGlyphs">GVHD score</text>
<line x1="76.30" y1="591.30" x2="124.60" y2="591.30" stroke="#111" stroke-width="1.3"/>
<text x="82.50" y="588.00" font-size="8.3" text-anchor="start" textLength="35.50" lengthAdjust="spacingAndGlyphs"><tspan font-style="italic">P</tspan> &lt; 0.001</text>
<line x1="151.90" y1="591.30" x2="200.80" y2="591.30" stroke="#111" stroke-width="1.3"/>
<text x="157.70" y="588.00" font-size="8.3" text-anchor="start" textLength="36.10" lengthAdjust="spacingAndGlyphs"><tspan font-style="italic">P</tspan> &lt; 0.001</text>
<rect x="72.60" y="658.17" width="7.20" height="7.20" fill="#66A83E" stroke="#2f5a20" stroke-width="0.9"/>
<rect x="90.70" y="658.17" width="7.20" height="7.20" fill="#66A83E" stroke="#2f5a20" stroke-width="0.9"/>
<rect x="76.20" y="662.48" width="7.20" height="7.20" fill="#66A83E" stroke="#2f5a20" stroke-width="0.9"/>
<rect x="86.10" y="662.48" width="7.20" height="7.20" fill="#66A83E" stroke="#2f5a20" stroke-width="0.9"/>
<rect x="81.30" y="666.78" width="7.20" height="7.20" fill="#66A83E" stroke="#2f5a20" stroke-width="0.9"/>
<rect x="74.40" y="679.68" width="7.20" height="7.20" fill="#66A83E" stroke="#2f5a20" stroke-width="0.9"/>
<rect x="82.00" y="679.68" width="7.20" height="7.20" fill="#66A83E" stroke="#2f5a20" stroke-width="0.9"/>
<rect x="88.90" y="679.68" width="7.20" height="7.20" fill="#66A83E" stroke="#2f5a20" stroke-width="0.9"/>
<rect x="76.90" y="676.81" width="7.20" height="7.20" fill="#66A83E" stroke="#2f5a20" stroke-width="0.9"/>
<rect x="86.40" y="676.81" width="7.20" height="7.20" fill="#66A83E" stroke="#2f5a20" stroke-width="0.9"/>
<line x1="71.60" y1="677.80" x2="99.70" y2="677.80" stroke="#111" stroke-width="1.4"/>
<line x1="78.00" y1="675.80" x2="92.00" y2="675.80" stroke="#111" stroke-width="1"/>
<line x1="78.00" y1="679.80" x2="92.00" y2="679.80" stroke="#111" stroke-width="1"/>
<polygon points="122.40,597.00 131.60,597.00 127.00,605.20" fill="#E8BD1A" stroke="#111" stroke-width="1.0" stroke-linejoin="miter"/>
<polygon points="136.60,597.00 145.80,597.00 141.20,605.20" fill="#E8BD1A" stroke="#111" stroke-width="1.0" stroke-linejoin="miter"/>
<polygon points="129.50,600.00 138.70,600.00 134.10,608.20" fill="#E8BD1A" stroke="#111" stroke-width="1.0" stroke-linejoin="miter"/>
<polygon points="136.00,604.00 145.20,604.00 140.60,612.20" fill="#E8BD1A" stroke="#111" stroke-width="1.0" stroke-linejoin="miter"/>
<polygon points="122.50,607.30 131.70,607.30 127.10,615.50" fill="#E8BD1A" stroke="#111" stroke-width="1.0" stroke-linejoin="miter"/>
<polygon points="130.90,607.50 140.10,607.50 135.50,615.70" fill="#E8BD1A" stroke="#111" stroke-width="1.0" stroke-linejoin="miter"/>
<polygon points="119.90,611.10 129.10,611.10 124.50,619.30" fill="#E8BD1A" stroke="#111" stroke-width="1.0" stroke-linejoin="miter"/>
<polygon points="124.00,611.10 133.20,611.10 128.60,619.30" fill="#E8BD1A" stroke="#111" stroke-width="1.0" stroke-linejoin="miter"/>
<polygon points="132.00,611.10 141.20,611.10 136.60,619.30" fill="#E8BD1A" stroke="#111" stroke-width="1.0" stroke-linejoin="miter"/>
<polygon points="137.50,611.10 146.70,611.10 142.10,619.30" fill="#E8BD1A" stroke="#111" stroke-width="1.0" stroke-linejoin="miter"/>
<polygon points="130.00,614.10 139.20,614.10 134.60,622.30" fill="#E8BD1A" stroke="#111" stroke-width="1.0" stroke-linejoin="miter"/>
<polygon points="135.00,614.10 144.20,614.10 139.60,622.30" fill="#E8BD1A" stroke="#111" stroke-width="1.0" stroke-linejoin="miter"/>
<polygon points="124.40,616.00 133.60,616.00 129.00,624.20" fill="#E8BD1A" stroke="#111" stroke-width="1.0" stroke-linejoin="miter"/>
<polygon points="122.00,618.60 131.20,618.60 126.60,626.80" fill="#E8BD1A" stroke="#111" stroke-width="1.0" stroke-linejoin="miter"/>
<polygon points="127.00,618.60 136.20,618.60 131.60,626.80" fill="#E8BD1A" stroke="#111" stroke-width="1.0" stroke-linejoin="miter"/>
<polygon points="135.50,618.60 144.70,618.60 140.10,626.80" fill="#E8BD1A" stroke="#111" stroke-width="1.0" stroke-linejoin="miter"/>
<polygon points="128.40,620.00 137.60,620.00 133.00,628.20" fill="#E8BD1A" stroke="#111" stroke-width="1.0" stroke-linejoin="miter"/>
<polygon points="133.40,622.00 142.60,622.00 138.00,630.20" fill="#E8BD1A" stroke="#111" stroke-width="1.0" stroke-linejoin="miter"/>
<polygon points="127.50,623.70 136.70,623.70 132.10,631.90" fill="#E8BD1A" stroke="#111" stroke-width="1.0" stroke-linejoin="miter"/>
<polygon points="131.50,628.70 140.70,628.70 136.10,636.90" fill="#E8BD1A" stroke="#111" stroke-width="1.0" stroke-linejoin="miter"/>
<polygon points="122.50,643.30 131.70,643.30 127.10,651.50" fill="#E8BD1A" stroke="#111" stroke-width="1.0" stroke-linejoin="miter"/>
<polygon points="135.50,643.30 144.70,643.30 140.10,651.50" fill="#E8BD1A" stroke="#111" stroke-width="1.0" stroke-linejoin="miter"/>
<polygon points="138.00,643.30 147.20,643.30 142.60,651.50" fill="#E8BD1A" stroke="#111" stroke-width="1.0" stroke-linejoin="miter"/>
<polygon points="126.00,647.30 135.20,647.30 130.60,655.50" fill="#E8BD1A" stroke="#111" stroke-width="1.0" stroke-linejoin="miter"/>
<line x1="120.00" y1="622.40" x2="148.70" y2="622.40" stroke="#111" stroke-width="1.4"/>
<line x1="127.00" y1="620.00" x2="141.00" y2="620.00" stroke="#111" stroke-width="1"/>
<line x1="127.00" y1="625.00" x2="141.00" y2="625.00" stroke="#111" stroke-width="1"/>
<circle cx="178.50" cy="660.00" r="3.90" fill="#C80C80" stroke="#2a0015" stroke-width="1.1"/>
<circle cx="187.00" cy="660.00" r="3.90" fill="#C80C80" stroke="#2a0015" stroke-width="1.1"/>
<circle cx="183.00" cy="656.50" r="3.90" fill="#C80C80" stroke="#2a0015" stroke-width="1.1"/>
<circle cx="176.50" cy="649.60" r="3.90" fill="#C80C80" stroke="#2a0015" stroke-width="1.1"/>
<circle cx="189.60" cy="649.60" r="3.90" fill="#C80C80" stroke="#2a0015" stroke-width="1.1"/>
<circle cx="174.50" cy="654.50" r="3.90" fill="#C80C80" stroke="#2a0015" stroke-width="1.1"/>
<circle cx="181.00" cy="654.00" r="3.90" fill="#C80C80" stroke="#2a0015" stroke-width="1.1"/>
<circle cx="185.00" cy="654.00" r="3.90" fill="#C80C80" stroke="#2a0015" stroke-width="1.1"/>
<circle cx="191.50" cy="654.50" r="3.90" fill="#C80C80" stroke="#2a0015" stroke-width="1.1"/>
<circle cx="174.00" cy="659.00" r="3.90" fill="#C80C80" stroke="#2a0015" stroke-width="1.1"/>
<circle cx="191.50" cy="659.00" r="3.90" fill="#C80C80" stroke="#2a0015" stroke-width="1.1"/>
<circle cx="176.00" cy="663.50" r="3.90" fill="#C80C80" stroke="#2a0015" stroke-width="1.1"/>
<circle cx="189.50" cy="663.50" r="3.90" fill="#C80C80" stroke="#2a0015" stroke-width="1.1"/>
<circle cx="179.50" cy="666.50" r="3.90" fill="#C80C80" stroke="#2a0015" stroke-width="1.1"/>
<circle cx="186.50" cy="666.50" r="3.90" fill="#C80C80" stroke="#2a0015" stroke-width="1.1"/>
<circle cx="183.00" cy="667.50" r="3.90" fill="#C80C80" stroke="#2a0015" stroke-width="1.1"/>
<circle cx="176.50" cy="675.40" r="3.90" fill="#C80C80" stroke="#2a0015" stroke-width="1.1"/>
<circle cx="189.60" cy="676.20" r="3.90" fill="#C80C80" stroke="#2a0015" stroke-width="1.1"/>
<circle cx="180.00" cy="679.00" r="3.90" fill="#C80C80" stroke="#2a0015" stroke-width="1.1"/>
<circle cx="186.00" cy="679.00" r="3.90" fill="#C80C80" stroke="#2a0015" stroke-width="1.1"/>
<circle cx="183.00" cy="677.00" r="3.90" fill="#C80C80" stroke="#2a0015" stroke-width="1.1"/>
<circle cx="181.50" cy="683.00" r="3.90" fill="#C80C80" stroke="#2a0015" stroke-width="1.1"/>
<circle cx="185.80" cy="683.80" r="3.90" fill="#C80C80" stroke="#2a0015" stroke-width="1.1"/>
<polygon points="180.6,659.6 184.9,659.6 182.75,663" fill="white"/>
<circle cx="182.80" cy="674.60" r="0.90" fill="white"/>
<line x1="168.80" y1="669.60" x2="196.90" y2="669.60" stroke="#111" stroke-width="1.4"/>
<line x1="176.00" y1="667.60" x2="190.00" y2="667.60" stroke="#111" stroke-width="1"/>
<line x1="176.00" y1="671.80" x2="190.00" y2="671.80" stroke="#111" stroke-width="1"/>
<line x1="263.70" y1="580.80" x2="263.70" y2="684.60" stroke="#111" stroke-width="1.3"/>
<line x1="263.10" y1="684.00" x2="412.10" y2="684.00" stroke="#111" stroke-width="1.3"/>
<line x1="260.20" y1="684.00" x2="263.70" y2="684.00" stroke="#111" stroke-width="1.1"/>
<text x="257.50" y="687.20" font-size="9.2" text-anchor="end" textLength="4.50" lengthAdjust="spacingAndGlyphs">0</text>
<line x1="260.20" y1="663.86" x2="263.70" y2="663.86" stroke="#111" stroke-width="1.1"/>
<text x="257.50" y="667.06" font-size="9.2" text-anchor="end" textLength="4.50" lengthAdjust="spacingAndGlyphs">2</text>
<line x1="260.20" y1="643.72" x2="263.70" y2="643.72" stroke="#111" stroke-width="1.1"/>
<text x="257.50" y="646.92" font-size="9.2" text-anchor="end" textLength="4.50" lengthAdjust="spacingAndGlyphs">4</text>
<line x1="260.20" y1="623.58" x2="263.70" y2="623.58" stroke="#111" stroke-width="1.1"/>
<text x="257.50" y="626.78" font-size="9.2" text-anchor="end" textLength="4.50" lengthAdjust="spacingAndGlyphs">6</text>
<line x1="260.20" y1="603.44" x2="263.70" y2="603.44" stroke="#111" stroke-width="1.1"/>
<text x="257.50" y="606.64" font-size="9.2" text-anchor="end" textLength="4.50" lengthAdjust="spacingAndGlyphs">8</text>
<line x1="260.20" y1="583.30" x2="263.70" y2="583.30" stroke="#111" stroke-width="1.1"/>
<text x="257.50" y="586.50" font-size="9.2" text-anchor="end" textLength="9.00" lengthAdjust="spacingAndGlyphs">10</text>
<text transform="translate(228.50,631.60) rotate(-90)" x="0" y="0" font-size="10.8" text-anchor="middle" textLength="32.20" lengthAdjust="spacingAndGlyphs">Colonic</text>
<text transform="translate(241.20,632.00) rotate(-90)" x="0" y="0" font-size="10.8" text-anchor="middle" textLength="51.20" lengthAdjust="spacingAndGlyphs">GVHD score</text>
<line x1="280.00" y1="592.60" x2="327.40" y2="592.60" stroke="#111" stroke-width="1.3"/>
<text x="285.80" y="590.30" font-size="8.3" text-anchor="start" textLength="35.80" lengthAdjust="spacingAndGlyphs"><tspan font-style="italic">P</tspan> &lt; 0.001</text>
<line x1="354.50" y1="592.60" x2="402.00" y2="592.60" stroke="#111" stroke-width="1.3"/>
<text x="361.20" y="590.30" font-size="8.3" text-anchor="start" textLength="34.60" lengthAdjust="spacingAndGlyphs"><tspan font-style="italic">P</tspan> &lt; 0.001</text>
<rect x="276.70" y="665.20" width="7.20" height="7.20" fill="#66A83E" stroke="#2f5a20" stroke-width="0.9"/>
<rect x="276.70" y="675.60" width="7.20" height="7.20" fill="#66A83E" stroke="#2f5a20" stroke-width="0.9"/>
<rect x="276.70" y="680.40" width="7.20" height="7.20" fill="#66A83E" stroke="#2f5a20" stroke-width="0.9"/>
<rect x="285.20" y="665.20" width="7.20" height="7.20" fill="#66A83E" stroke="#2f5a20" stroke-width="0.9"/>
<rect x="285.20" y="675.60" width="7.20" height="7.20" fill="#66A83E" stroke="#2f5a20" stroke-width="0.9"/>
<rect x="285.20" y="680.40" width="7.20" height="7.20" fill="#66A83E" stroke="#2f5a20" stroke-width="0.9"/>
<rect x="293.90" y="665.20" width="7.20" height="7.20" fill="#66A83E" stroke="#2f5a20" stroke-width="0.9"/>
<rect x="293.90" y="675.60" width="7.20" height="7.20" fill="#66A83E" stroke="#2f5a20" stroke-width="0.9"/>
<rect x="293.90" y="680.40" width="7.20" height="7.20" fill="#66A83E" stroke="#2f5a20" stroke-width="0.9"/>
<line x1="274.90" y1="680.40" x2="303.50" y2="680.40" stroke="#111" stroke-width="1.4"/>
<line x1="281.00" y1="678.50" x2="295.00" y2="678.50" stroke="#111" stroke-width="1"/>
<line x1="281.00" y1="682.50" x2="295.00" y2="682.50" stroke="#111" stroke-width="1"/>
<polygon points="327.10,599.30 335.50,599.30 331.30,606.70" fill="#E8BD1A" stroke="#111" stroke-width="1.0" stroke-linejoin="miter"/>
<polygon points="330.70,599.30 339.10,599.30 334.90,606.70" fill="#E8BD1A" stroke="#111" stroke-width="1.0" stroke-linejoin="miter"/>
<polygon points="340.70,599.30 349.10,599.30 344.90,606.70" fill="#E8BD1A" stroke="#111" stroke-width="1.0" stroke-linejoin="miter"/>
<polygon points="343.40,599.30 351.80,599.30 347.60,606.70" fill="#E8BD1A" stroke="#111" stroke-width="1.0" stroke-linejoin="miter"/>
<polygon points="331.60,609.30 340.00,609.30 335.80,616.70" fill="#E8BD1A" stroke="#111" stroke-width="1.0" stroke-linejoin="miter"/>
<polygon points="334.30,609.30 342.70,609.30 338.50,616.70" fill="#E8BD1A" stroke="#111" stroke-width="1.0" stroke-linejoin="miter"/>
<polygon points="337.00,609.30 345.40,609.30 341.20,616.70" fill="#E8BD1A" stroke="#111" stroke-width="1.0" stroke-linejoin="miter"/>
<polygon points="327.10,623.80 335.50,623.80 331.30,631.20" fill="#E8BD1A" stroke="#111" stroke-width="1.0" stroke-linejoin="miter"/>
<polygon points="334.30,623.80 342.70,623.80 338.50,631.20" fill="#E8BD1A" stroke="#111" stroke-width="1.0" stroke-linejoin="miter"/>
<polygon points="342.50,623.80 350.90,623.80 346.70,631.20" fill="#E8BD1A" stroke="#111" stroke-width="1.0" stroke-linejoin="miter"/>
<polygon points="327.10,633.80 335.50,633.80 331.30,641.20" fill="#E8BD1A" stroke="#111" stroke-width="1.0" stroke-linejoin="miter"/>
<polygon points="341.60,633.80 350.00,633.80 345.80,641.20" fill="#E8BD1A" stroke="#111" stroke-width="1.0" stroke-linejoin="miter"/>
<polygon points="330.70,640.30 339.10,640.30 334.90,647.70" fill="#E8BD1A" stroke="#111" stroke-width="1.0" stroke-linejoin="miter"/>
<polygon points="336.10,640.30 344.50,640.30 340.30,647.70" fill="#E8BD1A" stroke="#111" stroke-width="1.0" stroke-linejoin="miter"/>
<polygon points="339.80,640.30 348.20,640.30 344.00,647.70" fill="#E8BD1A" stroke="#111" stroke-width="1.0" stroke-linejoin="miter"/>
<polygon points="328.00,649.30 336.40,649.30 332.20,656.70" fill="#E8BD1A" stroke="#111" stroke-width="1.0" stroke-linejoin="miter"/>
<polygon points="341.60,649.30 350.00,649.30 345.80,656.70" fill="#E8BD1A" stroke="#111" stroke-width="1.0" stroke-linejoin="miter"/>
<polygon points="337.90,653.80 346.30,653.80 342.10,661.20" fill="#E8BD1A" stroke="#111" stroke-width="1.0" stroke-linejoin="miter"/>
<polygon points="330.70,660.30 339.10,660.30 334.90,667.70" fill="#E8BD1A" stroke="#111" stroke-width="1.0" stroke-linejoin="miter"/>
<polygon points="331.80,627.30 340.20,627.30 336.00,634.70" fill="#E8BD1A" stroke="#111" stroke-width="1.0" stroke-linejoin="miter"/>
<polygon points="338.80,629.30 347.20,629.30 343.00,636.70" fill="#E8BD1A" stroke="#111" stroke-width="1.0" stroke-linejoin="miter"/>
<polygon points="324.80,630.30 333.20,630.30 329.00,637.70" fill="#E8BD1A" stroke="#111" stroke-width="1.0" stroke-linejoin="miter"/>
<polygon points="333.80,636.30 342.20,636.30 338.00,643.70" fill="#E8BD1A" stroke="#111" stroke-width="1.0" stroke-linejoin="miter"/>
<line x1="324.40" y1="632.40" x2="353.00" y2="632.40" stroke="#111" stroke-width="1.4"/>
<line x1="332.00" y1="630.00" x2="346.00" y2="630.00" stroke="#111" stroke-width="1"/>
<line x1="332.00" y1="635.00" x2="346.00" y2="635.00" stroke="#111" stroke-width="1"/>
<circle cx="375.90" cy="653.60" r="3.70" fill="#C4037A" stroke="#3a0020" stroke-width="0.9"/>
<circle cx="388.00" cy="652.90" r="3.70" fill="#C4037A" stroke="#3a0020" stroke-width="0.9"/>
<circle cx="400.70" cy="653.30" r="3.70" fill="#C4037A" stroke="#3a0020" stroke-width="0.9"/>
<circle cx="379.90" cy="658.70" r="3.70" fill="#C4037A" stroke="#3a0020" stroke-width="0.9"/>
<circle cx="392.60" cy="658.70" r="3.70" fill="#C4037A" stroke="#3a0020" stroke-width="0.9"/>
<circle cx="398.00" cy="659.60" r="3.70" fill="#C4037A" stroke="#3a0020" stroke-width="0.9"/>
<circle cx="384.40" cy="664.10" r="3.70" fill="#C4037A" stroke="#3a0020" stroke-width="0.9"/>
<circle cx="389.00" cy="668.60" r="3.70" fill="#C4037A" stroke="#3a0020" stroke-width="0.9"/>
<circle cx="378.10" cy="673.20" r="3.70" fill="#C4037A" stroke="#3a0020" stroke-width="0.9"/>
<circle cx="398.90" cy="673.20" r="3.70" fill="#C4037A" stroke="#3a0020" stroke-width="0.9"/>
<circle cx="379.90" cy="679.50" r="3.70" fill="#C4037A" stroke="#3a0020" stroke-width="0.9"/>
<circle cx="396.20" cy="679.50" r="3.70" fill="#C4037A" stroke="#3a0020" stroke-width="0.9"/>
<circle cx="385.30" cy="684.00" r="3.70" fill="#C4037A" stroke="#3a0020" stroke-width="0.9"/>
<circle cx="392.60" cy="684.00" r="3.70" fill="#C4037A" stroke="#3a0020" stroke-width="0.9"/>
<circle cx="383.00" cy="676.00" r="3.70" fill="#C4037A" stroke="#3a0020" stroke-width="0.9"/>
<circle cx="393.00" cy="676.00" r="3.70" fill="#C4037A" stroke="#3a0020" stroke-width="0.9"/>
<polygon points="385.5,677 392.5,677 389,682" fill="white"/>
<line x1="374.10" y1="672.80" x2="403.10" y2="672.80" stroke="#111" stroke-width="1.4"/>
<line x1="381.00" y1="670.50" x2="397.00" y2="670.50" stroke="#111" stroke-width="1"/>
<line x1="381.00" y1="675.00" x2="397.00" y2="675.00" stroke="#111" stroke-width="1"/>
</svg></body></html>
